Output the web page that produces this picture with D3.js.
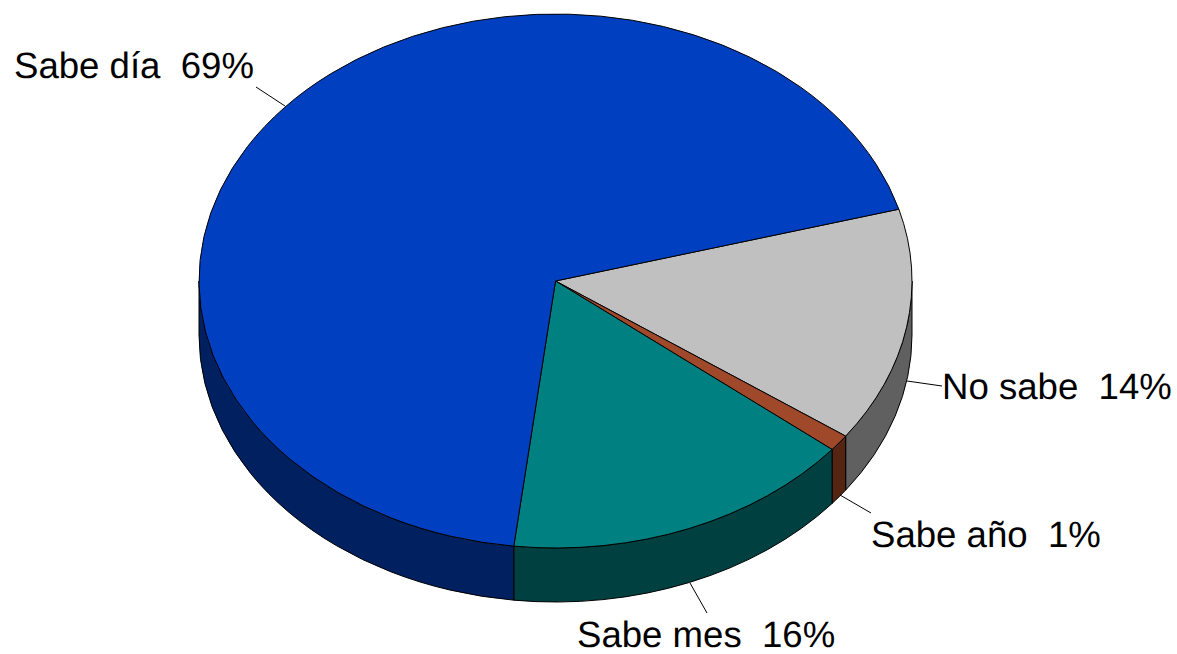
<!DOCTYPE html>
<html>
<head>
<meta charset="utf-8">
<script src="https://cdn.jsdelivr.net/npm/d3@7"></script>
<style>
  html, body { margin: 0; padding: 0; background: #fff; }
  text { font-family: "Liberation Sans", Arial, sans-serif; font-size: 36.6px; fill: #000; white-space: pre; text-rendering: geometricPrecision; }
</style>
</head>
<body>
<svg id="chart" width="1177" height="654"></svg>
<script>
// valori, in senso orario partendo da No sabe
var categories = ["No sabe", "Sabe año", "Sabe mes", "Sabe día"];
var values = [14.2, 1.0, 16.0, 68.8];
var topColors = ["#C0C0C0", "#A0492A", "#008080", "#0040C0"];
var sideColors = ["#606060", "#552511", "#004040", "#002060"];

var cx = 555.5, cy = 281, rx = 356.5, ry = 267, depth = 54;
var startDeg = 74.4;

// posizione di etichette e linee guida, nello stesso ordine di categories
var labelPos = [[942, 399], [871, 547], [577, 647], [14, 78]];
var leaders = [[[942, 386], [907, 381]], [[871, 513], [840, 495]], [[707, 613], [690, 583]], [[256, 87], [285, 106]]];

var svg = d3.select("#chart");

var pie = d3.pie().sort(null).startAngle(startDeg * Math.PI / 180).endAngle((startDeg + 360) * Math.PI / 180);
var arcs = pie(values);
arcs.forEach(function(d, i) { d.i = i; });

function pt(a, dy) {
  return [cx + rx * Math.sin(a), cy - ry * Math.cos(a) + (dy || 0)];
}

// parte visibile del bordo: solo la meta davanti dell'ellisse (tra 90 e 270 gradi, anche +360)
function wallPath(d) {
  var lo = Math.PI / 2, hi = 3 * Math.PI / 2, out = "";
  [0, 2 * Math.PI].forEach(function(shift) {
    var a0 = Math.max(d.startAngle, lo + shift), a1 = Math.min(d.endAngle, hi + shift);
    if (a1 <= a0) return;
    var p0 = pt(a0), p1 = pt(a1), p2 = pt(a1, depth), p3 = pt(a0, depth);
    out += "M" + p0 + "A" + rx + "," + ry + " 0 0 1 " + p1 +
      "L" + p2 + "A" + rx + "," + ry + " 0 0 0 " + p3 + "Z";
  });
  return out;
}

svg.append("g").selectAll("path")
  .data(arcs)
  .enter()
  .append("path")
    .attr("d", wallPath)
    .attr("fill", function(d) { return sideColors[d.i]; })
    .attr("stroke", "#000")
    .attr("stroke-width", 1);

var arc = d3.arc().innerRadius(0).outerRadius(rx);

svg.append("g")
    .attr("transform", "translate(" + cx + "," + cy + ") scale(1," + (ry / rx) + ")")
  .selectAll("path")
  .data(arcs)
  .enter()
  .append("path")
    .attr("d", arc)
    .attr("fill", function(d) { return topColors[d.i]; })
    .attr("stroke", "#000")
    .attr("stroke-width", 1)
    .attr("vector-effect", "non-scaling-stroke");

svg.append("g").selectAll("line")
  .data(leaders)
  .enter()
  .append("line")
    .attr("x1", function(d) { return d[0][0]; })
    .attr("y1", function(d) { return d[0][1]; })
    .attr("x2", function(d) { return d[1][0]; })
    .attr("y2", function(d) { return d[1][1]; })
    .attr("stroke", "#000")
    .attr("stroke-width", 1);

svg.append("g").selectAll("text")
  .data(categories)
  .enter()
  .append("text")
    .attr("x", function(d, i) { return labelPos[i][0]; })
    .attr("y", function(d, i) { return labelPos[i][1]; })
    .text(function(d, i) { return d + "  " + Math.round(values[i]) + "%"; });
</script>
</body>
</html>
